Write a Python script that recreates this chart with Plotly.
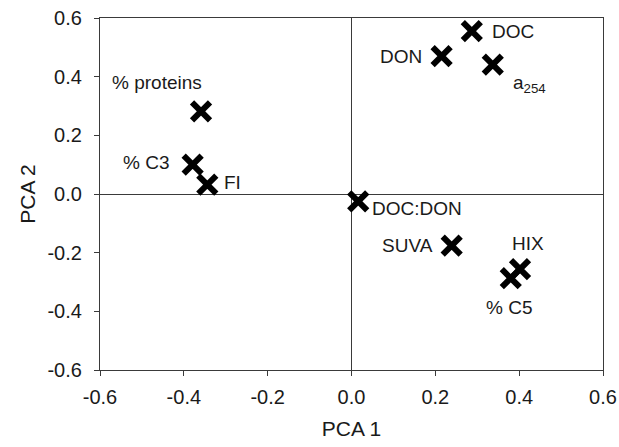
import plotly.graph_objects as go

# PCA loadings of DOM variables
labels = ["% proteins", "% C3", "FI", "DOC", "DON", "a<sub>254</sub>",
          "DOC:DON", "SUVA", "HIX", "% C5"]
pca1 = [-0.359, -0.379, -0.344, 0.287, 0.215, 0.337, 0.016, 0.239, 0.402, 0.380]
pca2 = [0.282, 0.100, 0.032, 0.555, 0.470, 0.441, -0.025, -0.176, -0.256, -0.287]

tick_vals = [-0.6, -0.4, -0.2, 0.0, 0.2, 0.4, 0.6]
tick_text = ["-0.6", "-0.4", "-0.2", "0.0", "0.2", "0.4", "0.6"]

# label placement around each marker: (xanchor, xshift, yshift)
label_pos = [
    ("center", -44, 29),
    ("right", -22, 2),
    ("left", 15, 2),
    ("left", 18, 0),
    ("right", -18, 0),
    ("left", 18, -19),
    ("left", 12, -7),
    ("right", -17, 0),
    ("center", 8, 26),
    ("center", -2, -29),
]

font_family = "Liberation Sans, Arial, sans-serif"
text_col = "#1a1a1a"
line_col = "#3a3a3a"

fig = go.Figure()
fig.add_trace(go.Scatter(
    x=pca1, y=pca2, mode="markers",
    marker=dict(symbol="x-thin", size=18, color="black",
                line=dict(width=6, color="black")),
    showlegend=False, hoverinfo="skip",
))

for lab, x, y, (xa, xs, ys) in zip(labels, pca1, pca2, label_pos):
    fig.add_annotation(x=x, y=y, text=lab, showarrow=False,
                       xanchor=xa, yanchor="middle", xshift=xs, yshift=ys,
                       font=dict(family=font_family, size=19, color=text_col))

axis_common = dict(
    range=[-0.6, 0.6], tickmode="array", tickvals=tick_vals, ticktext=tick_text,
    showgrid=False, zeroline=True, zerolinecolor=line_col, zerolinewidth=1.3,
    showline=True, linecolor=line_col, linewidth=1.3, mirror=True,
    ticks="outside", ticklen=5, tickcolor=line_col, tickwidth=1.3,
    tickfont=dict(family=font_family, size=20, color=text_col),
    title_font=dict(family=font_family, size=21, color=text_col),
    automargin=False,
)

fig.update_xaxes(title_text="PCA 1", title_standoff=14, ticklabelstandoff=4,
                 **axis_common)
fig.update_yaxes(title_text="PCA 2", title_standoff=6, ticklabelstandoff=8,
                 **axis_common)

fig.update_layout(
    width=619, height=447,
    margin=dict(l=100, r=16, t=18, b=77),
    plot_bgcolor="white", paper_bgcolor="white",
)

fig.write_html("out.html")
